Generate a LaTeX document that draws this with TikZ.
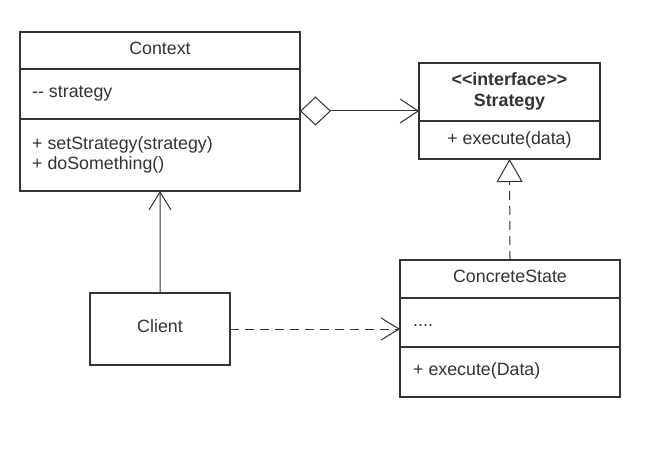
\documentclass[tikz,border=0pt]{standalone}
\usepackage{fontspec}
\setmainfont{Liberation Sans}[Ligatures=TeXOff]
\usetikzlibrary{arrows.meta}
\definecolor{ink}{HTML}{333333}
\begin{document}
\begin{tikzpicture}[x=1bp,y=-1bp,
  box/.style={draw=ink,line width=2bp,rectangle,inner sep=0pt,outer sep=0pt,anchor=north west},
  divider/.style={draw=ink,line width=2bp},
  txt/.style={text=ink,inner sep=0pt,font=\fontsize{17.8bp}{20bp}\selectfont},
  boldtxt/.style={txt,font=\fontsize{17.8bp}{20bp}\selectfont\bfseries},
  conn/.style={draw=ink,line width=1bp},
  dashconn/.style={conn,dash pattern=on 9bp off 6bp},
  openarrow/.style={-{Straight Barb[length=18bp,width=22bp]}}
]
\useasboundingbox (0,0) rectangle (649,454);
\fill[white] (0,0) rectangle (649,454);

% Context
\node[box,minimum width=280bp,minimum height=159bp] (context) at (20,32) {};
\draw[divider] (20,69) -- (300,69);
\draw[divider] (20,119) -- (300,119);
\node[txt,anchor=base] (ctxname) at (160,55) {Context};
\node[txt,anchor=base west] (ctxattr) at (32,98) {-{}- strategy};
\node[txt,anchor=base west] (ctxop1) at (32,149.5) {+ setStrategy(strategy)};
\node[txt,anchor=base west] (ctxop2) at (32,169.5) {+ doSomething()};

% Strategy
\node[box,minimum width=181bp,minimum height=96bp] (strategy) at (419,63) {};
\draw[divider] (419,121) -- (600,121);
\node[boldtxt,anchor=base] (stster) at (509.5,86) {<<interface>>};
\node[boldtxt,anchor=base] (stname) at (509.5,106.5) {Strategy};
\node[txt,anchor=base] (stop) at (509.5,145) {+ execute(data)};

% ConcreteState
\node[box,minimum width=220bp,minimum height=137bp] (concrete) at (400,260) {};
\draw[divider] (400,298) -- (620,298);
\draw[divider] (400,347) -- (620,347);
\node[txt,anchor=base] (csname) at (510,282.5) {ConcreteState};
\node[txt,anchor=base west] (csattr) at (413,326) {....};
\node[txt,anchor=base west] (csop) at (413,375) {+ execute(Data)};

% Client
\node[box,minimum width=140bp,minimum height=72bp] (client) at (90,293) {};
\node[txt,anchor=base] (clname) at (client.center) [yshift=-3bp] {Client};

% connectors
\draw[conn,{Diamond[open,fill=white,length=31bp,width=29bp]}-{Straight Barb[length=18bp,width=24bp]}]
  (context.east |- strategy.west) -- (strategy.west);
\draw[conn,openarrow] (client.north) -- (context.south);
\draw[dashconn,openarrow] (client.east) -- (concrete.west |- client.east);
\draw[dashconn,-{Triangle[open,fill=white,length=23bp,width=26bp]}] (concrete.north) -- (strategy.south);
\end{tikzpicture}
\end{document}
